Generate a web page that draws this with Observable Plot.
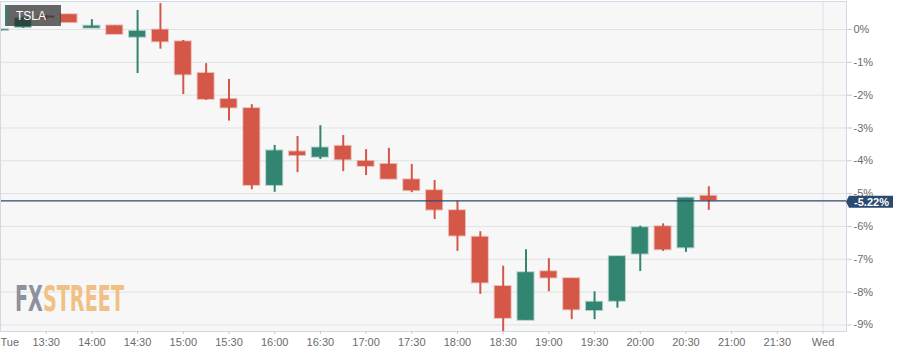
<!DOCTYPE html>
<html>
<head>
<meta charset="utf-8">
<script src="https://cdn.jsdelivr.net/npm/d3@7"></script>
<script src="https://cdn.jsdelivr.net/npm/@observablehq/plot@0.6"></script>
<style>
  html, body { margin: 0; padding: 0; background: #ffffff; }
  #chart svg { display: block; }
</style>
</head>
<body>
<div id="chart"></div>
<script>
// ---- Data (percent change, 15-minute candles) ----
const symbol = "TSLA";
const times  = ["13:00","13:15","13:30","13:45","14:00","14:15","14:30","14:45",
                "15:00","15:15","15:30","15:45","16:00","16:15","16:30","16:45",
                "17:00","17:15","17:30","17:45","18:00","18:15","18:30","18:45",
                "19:00","19:15","19:30","19:45","20:00","20:15","20:30","20:45"];
const opens  = [-0.03, 0.06, 0.40, 0.45, 0.04, 0.11, -0.235, -0.02,
                -0.375, -1.34, -2.13, -2.41, -4.75, -3.73, -3.89, -3.56,
                -4.02, -4.11, -4.58, -4.91, -5.52, -6.33, -7.83, -8.86,
                -7.38, -7.59, -8.56, -8.28, -6.84, -6.01, -6.65, -5.08];
const highs  = [0.00, 0.38, 0.42, 0.45, 0.30, 0.11, 0.58, 0.79,
                -0.335, -1.04, -1.52, -2.29, -3.53, -3.26, -2.93, -3.23,
                -3.66, -3.62, -4.11, -4.60, -5.23, -6.16, -7.21, -6.71,
                -6.98, -7.59, -7.99, -6.92, -5.99, -5.92, -5.14, -4.79];
const lows   = [-0.06, 0.03, 0.28, 0.21, 0.04, -0.15, -1.34, -0.60,
                -1.98, -2.16, -2.79, -4.88, -4.96, -4.36, -3.96, -4.33,
                -4.45, -4.56, -4.97, -5.79, -6.76, -8.07, -9.25, -8.86,
                -7.99, -8.84, -8.84, -8.49, -7.37, -6.76, -6.79, -5.51];
const closes = [-0.01, 0.335, 0.36, 0.21, 0.10, -0.15, -0.06, -0.375,
                -1.38, -2.13, -2.39, -4.75, -3.70, -3.84, -3.61, -3.97,
                -4.17, -4.56, -4.91, -5.50, -6.29, -7.72, -8.80, -7.41,
                -7.57, -8.54, -8.31, -6.92, -6.04, -6.71, -5.14, -5.21];
const lastValue = -5.22;

const yTicks = [0, -1, -2, -3, -4, -5, -6, -7, -8, -9];
const xTickTimes  = ["13:00","13:30","14:00","14:30","15:00","15:30","16:00","16:30","17:00",
                     "17:30","18:00","18:30","19:00","19:30","20:00","20:30","21:00","21:30","22:00"];
const xTickLabels = ["Tue","13:30","14:00","14:30","15:00","15:30","16:00","16:30","17:00",
                     "17:30","18:00","18:30","19:00","19:30","20:00","20:30","21:00","21:30","Wed"];
const dayBreakTime = "22:00";

// ---- helpers ----
const toMin = s => { const [h, m] = s.split(":").map(Number); return (h - 13) * 60 + m; };
const candles = times.map((t, i) => ({
  t: toMin(t), open: opens[i], high: highs[i], low: lows[i], close: closes[i],
  up: closes[i] >= opens[i]
}));
const xTicks = xTickTimes.map(toMin);
const labelOf = new Map(xTicks.map((m, i) => [m, xTickLabels[i]]));

const RED = "#d55748", GREEN = "#318571", NAVY = "#2b4a70";
const colorOf = d => d.up ? GREEN : RED;

// watermark
const watermark = (index, scales, values, dims) => {
  const g = d3.create("svg:g").attr("text-anchor", "start");
  const base = dims.height - dims.marginBottom - 20;
  const t = g.append("text").attr("x", 15).attr("y", base)
    .attr("font-family", "'DejaVu Sans Condensed','Roboto','DejaVu Sans',sans-serif")
    .attr("font-weight", "bold").attr("font-size", 35)
    .attr("textLength", 109).attr("lengthAdjust", "spacingAndGlyphs");
  t.append("tspan").attr("fill", "#8c919b").text("FX");
  t.append("tspan").attr("fill", "#f1c085").text("STREET");
  return g.node();
};

// symbol label box (top-left)
const symbolLabel = (index, scales, values, dims) => {
  const g = d3.create("svg:g").attr("text-anchor", "start");
  g.append("rect").attr("x", 5).attr("y", 5).attr("width", 56).attr("height", 21)
    .attr("fill", "rgba(45,45,45,0.72)");
  g.append("rect").attr("x", 5).attr("y", 5).attr("width", 2).attr("height", 21)
    .attr("fill", GREEN);
  g.append("text").attr("x", 16).attr("y", 20)
    .attr("font-family", "'Liberation Sans',Arial,sans-serif")
    .attr("font-size", 12).attr("fill", "#ffffff").text(symbol);
  return g.node();
};

// last value price tag on right axis
const priceTag = (index, scales, values, dims) => {
  const g = d3.create("svg:g");
  const y = scales.y(lastValue) + 1.5;
  const x0 = dims.width - dims.marginRight;
  g.append("path")
    .attr("d", `M${x0},${y} L${x0 + 3},${y - 6} L${x0 + 47},${y - 6} L${x0 + 47},${y + 6} L${x0 + 3},${y + 6} Z`)
    .attr("fill", NAVY);
  g.append("text").attr("x", x0 + 25.5).attr("y", y + 4)
    .attr("text-anchor", "middle")
    .attr("font-family", "'Liberation Sans',Arial,sans-serif")
    .attr("font-weight", "bold").attr("font-size", 11)
    .attr("fill", "#ffffff").text(`${lastValue.toFixed(2)}%`);
  return g.node();
};

const chart = Plot.plot({
  width: 917,
  height: 357,
  marginLeft: 0,
  marginRight: 71,
  marginTop: 1,
  marginBottom: 26,
  style: { fontFamily: "'Liberation Sans', Arial, sans-serif", fontSize: "11px", background: "#ffffff" },
  x: { type: "linear", domain: [0, 555.4], axis: null, label: null },
  y: { domain: [-9.2, 0.853], axis: null, label: null },
  marks: [
    Plot.frame({ fill: "#f7f7f7", stroke: null }),
    Plot.gridY(yTicks, { stroke: "#e2e2e2", strokeOpacity: 1 }),
    Plot.ruleX([toMin(dayBreakTime)], { stroke: "#dfe1ea", strokeWidth: 1 }),
    watermark,
    Plot.ruleX(candles, { x: "t", y1: "low", y2: "high", stroke: colorOf, strokeWidth: 2, clip: true }),
    Plot.rect(candles, {
      x1: d => d.t - 7.5, x2: d => d.t + 7.5,
      y1: "open", y2: "close",
      insetLeft: 3.4, insetRight: 3.4,
      fill: colorOf, stroke: colorOf, strokeOpacity: 0.35, strokeWidth: 2,
      clip: true
    }),
    Plot.ruleY([lastValue], { stroke: NAVY, strokeWidth: 1.2 }),
    Plot.frame({ stroke: "#d3d7e8", strokeWidth: 1 }),
    Plot.axisY(yTicks, {
      anchor: "right", tickSize: 5, tickPadding: 2, label: null,
      tickFormat: d => `${d}%`, stroke: "#c8c8c8", fill: "#6b6b6b", fontSize: 11
    }),
    Plot.axisX(xTicks.filter(m => m > 0), {
      anchor: "bottom", tickSize: 3, tickPadding: 4, label: null,
      tickFormat: m => labelOf.get(m), stroke: "#c8c8c8", fill: "#6b6b6b", fontSize: 11
    }),
    Plot.text([xTicks[0]], {
      x: d => d, frameAnchor: "bottom", lineAnchor: "top", dy: 7,
      textAnchor: "start", text: d => labelOf.get(d), fill: "#6b6b6b", fontSize: 11
    }),
    priceTag,
    symbolLabel
  ]
});

document.getElementById("chart").appendChild(chart);
</script>
</body>
</html>
